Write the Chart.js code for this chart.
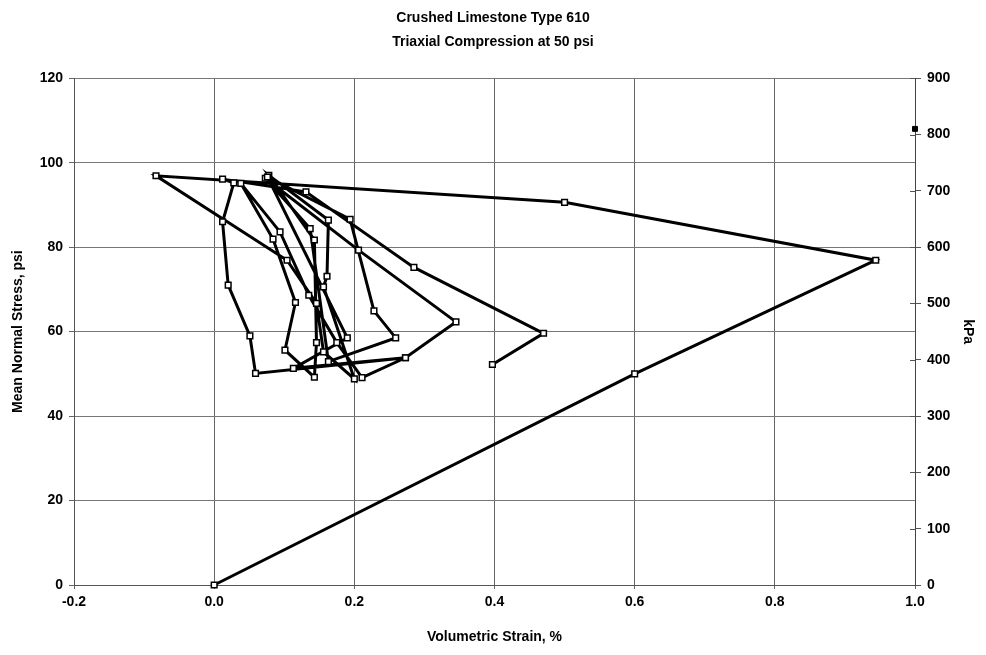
<!DOCTYPE html>
<html>
<head>
<meta charset="utf-8">
<script src="https://cdn.jsdelivr.net/npm/chart.js@4.4.1/dist/chart.umd.min.js"></script>
<style>
  html, body { margin: 0; padding: 0; background: #fff; }
  #wrap { width: 986px; height: 655px; }
</style>
</head>
<body>
<div id="wrap"><canvas id="c" width="986" height="655"></canvas></div>
<script>
// Volumetric strain (%) and mean normal stress (psi), in test order
const strain = [
  0.000, 0.600, 0.944, 0.500, -0.083,
  0.104, 0.146, 0.156, 0.200, 0.156, 0.161, 0.163, 0.078,
  0.143, 0.146, 0.143, 0.101, 0.116, 0.084, 0.038,
  0.094, 0.135, 0.175, 0.211, 0.273, 0.345, 0.206, 0.073,
  0.137, 0.163, 0.259, 0.228, 0.194, 0.076,
  0.190, 0.113, 0.273, 0.059, 0.051, 0.020, 0.012, 0.028, 0.012,
  0.131, 0.285, 0.470, 0.397
];
const stress = [
  0.0, 50.0, 76.9, 90.6, 96.9,
  76.9, 66.7, 55.2, 48.8, 70.6, 73.1, 86.4, 97.0,
  81.7, 57.4, 49.2, 55.6, 66.9, 81.9, 95.1,
  83.6, 68.6, 57.4, 49.1, 53.8, 62.3, 79.3, 96.3,
  84.4, 52.9, 58.5, 64.9, 86.6, 96.6,
  58.5, 51.3, 53.8, 50.1, 59.0, 71.0, 86.0, 95.2, 96.1,
  93.1, 75.2, 59.6, 52.2
];
// lone marker on the kPa axis
const markerStrain = [1.0];
const markerKPa = [810];

const xTicks = [-0.2, 0.0, 0.2, 0.4, 0.6, 0.8, 1.0];

const mainData = strain.map((x, i) => ({ x: x, y: stress[i] }));
const markerData = markerStrain.map((x, i) => ({ x: x, y: markerKPa[i] }));

const FONT = "'Liberation Sans', Arial, sans-serif";

// short inward tick marks on the kPa axis (cross-style ticks)
const innerTicks = {
  id: 'innerTicks',
  afterDatasetsDraw(chart) {
    const s = chart.scales.y2;
    const ctx = chart.ctx;
    ctx.save();
    ctx.strokeStyle = '#555';
    ctx.lineWidth = 1;
    s.ticks.forEach(t => {
      const y = Math.round(s.getPixelForValue(t.value)) + 0.5;
      ctx.beginPath();
      ctx.moveTo(s.left - 5, y);
      ctx.lineTo(s.left, y);
      ctx.stroke();
    });
    ctx.restore();
  }
};

new Chart(document.getElementById('c'), {
  type: 'scatter',
  data: {
    datasets: [
      {
        data: mainData,
        showLine: true,
        borderColor: '#000',
        borderWidth: 3,
        pointStyle: 'rect',
        pointRadius: 4,
        pointBackgroundColor: '#fff',
        pointBorderColor: '#000',
        pointBorderWidth: 1.5,
        yAxisID: 'y',
        clip: false
      },
      {
        data: markerData,
        showLine: false,
        pointStyle: 'rect',
        pointRadius: 3.5,
        pointBackgroundColor: '#000',
        pointBorderColor: '#000',
        yAxisID: 'y2',
        clip: false
      }
    ]
  },
  plugins: [innerTicks],
  options: {
    responsive: false,
    animation: false,
    events: [],
    layout: { padding: { top: 0, left: 0, right: 0, bottom: 0 } },
    plugins: {
      legend: { display: false },
      tooltip: { enabled: false },
      title: {
        display: true,
        text: ['Crushed Limestone Type 610', 'Triaxial Compression at 50 psi'],
        color: '#000',
        font: { family: FONT, size: 14, weight: 'bold', lineHeight: 1.65 },
        padding: { top: 7, bottom: 25 }
      }
    },
    scales: {
      x: {
        type: 'linear',
        min: -0.2, max: 1.0,
        afterBuildTicks: (s) => { s.ticks = xTicks.map(v => ({ value: v })); },
        afterFit: (s) => { s.height = 70; },
        ticks: {
          color: '#000',
          font: { family: FONT, size: 14, weight: 'bold' },
          padding: 5,
          callback: (v) => Number(v).toFixed(1),
          maxRotation: 0
        },
        grid: { color: '#666', lineWidth: 1, tickLength: 4, tickColor: '#666' },
        border: { color: '#555', width: 1 },
        title: {
          display: true,
          text: 'Volumetric Strain, %',
          color: '#000',
          font: { family: FONT, size: 14, weight: 'bold' },
          padding: { top: 0, bottom: 9 }
        }
      },
      y: {
        type: 'linear',
        position: 'left',
        min: 0, max: 120,
        ticks: {
          stepSize: 20,
          color: '#000',
          font: { family: FONT, size: 14, weight: 'bold' },
          padding: 6
        },
        afterFit: (s) => { s.width = 74; },
        grid: { color: '#777', lineWidth: 1, tickLength: 5, tickColor: '#666' },
        border: { color: '#555', width: 1 },
        title: {
          display: true,
          text: 'Mean Normal Stress, psi',
          color: '#000',
          font: { family: FONT, size: 14, weight: 'bold' },
          padding: { top: 10, bottom: 0 }
        }
      },
      y2: {
        type: 'linear',
        position: 'right',
        min: 0, max: 900,
        ticks: {
          stepSize: 100,
          color: '#000',
          font: { family: FONT, size: 14, weight: 'bold' },
          padding: 6
        },
        afterFit: (s) => { s.width = 71; },
        grid: { drawOnChartArea: false, tickLength: 6, tickColor: '#555' },
        border: { color: '#444', width: 1 },
        title: {
          display: true,
          text: 'kPa',
          color: '#000',
          font: { family: FONT, size: 14, weight: 'bold' },
          padding: { top: 10, bottom: 0 }
        }
      }
    }
  }
});
</script>
</body>
</html>
